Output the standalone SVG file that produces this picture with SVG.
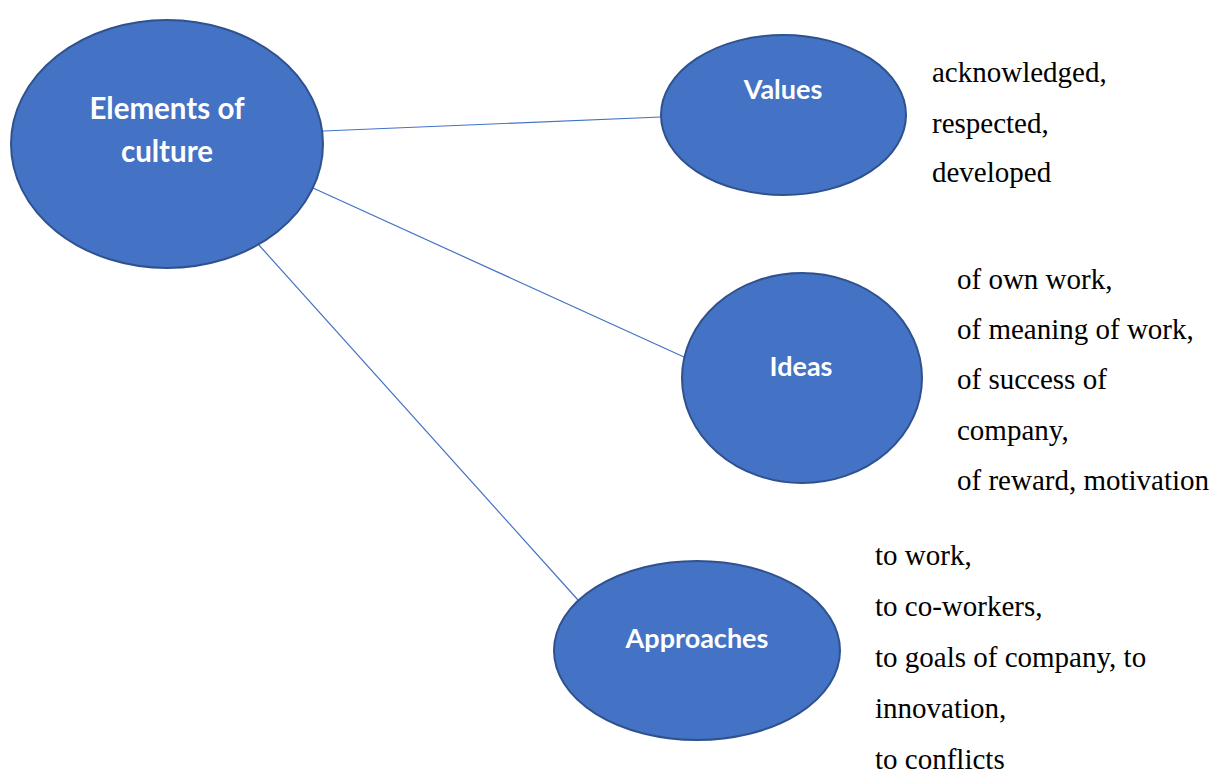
<svg xmlns="http://www.w3.org/2000/svg" width="1218" height="774" viewBox="0 0 1218 774">
<style>
.node{fill:#4472C4;stroke:#2F528F;stroke-width:2}
.lbl{fill:#FFFFFF;font-family:Lato,"Open Sans",sans-serif;font-weight:bold;text-anchor:middle}
.desc{fill:#000000;font-family:"Liberation Serif","Times New Roman",serif;font-size:29px}
.edge{stroke:#4472C4;stroke-width:1.2;fill:none}
</style>
<rect width="1218" height="774" fill="#FFFFFF"/>
<g id="connectors">
<line class="edge" x1="323" y1="131" x2="661" y2="117"/>
<line class="edge" x1="313" y1="188" x2="684" y2="357"/>
<line class="edge" x1="258" y1="244" x2="578" y2="600"/>
</g>
<g id="node-elements">
<ellipse class="node" cx="167" cy="144" rx="156" ry="124"/>
<text class="lbl" x="167" y="119" font-size="29.5">Elements of</text>
<text class="lbl" x="167" y="162" font-size="29.5">culture</text>
</g>
<g id="node-values">
<ellipse class="node" cx="783.5" cy="115" rx="122.5" ry="80"/>
<text class="lbl" x="783" y="99" font-size="27">Values</text>
</g>
<g id="node-ideas">
<ellipse class="node" cx="802" cy="378" rx="120" ry="105"/>
<text class="lbl" x="801" y="376" font-size="27">Ideas</text>
</g>
<g id="node-approaches">
<ellipse class="node" cx="697" cy="650.5" rx="143" ry="89.5"/>
<text class="lbl" x="697" y="648" font-size="27">Approaches</text>
</g>
<g id="values-text">
<text class="desc" x="932" y="82">acknowledged,</text>
<text class="desc" x="932" y="133">respected,</text>
<text class="desc" x="932" y="182">developed</text>
</g>
<g id="ideas-text">
<text class="desc" x="957" y="289">of own work,</text>
<text class="desc" x="957" y="339">of meaning of work,</text>
<text class="desc" x="957" y="389">of success of</text>
<text class="desc" x="957" y="440">company,</text>
<text class="desc" x="957" y="490">of reward, motivation</text>
</g>
<g id="approaches-text">
<text class="desc" x="875" y="565">to work,</text>
<text class="desc" x="875" y="616">to co-workers,</text>
<text class="desc" x="875" y="667">to goals of company, to</text>
<text class="desc" x="875" y="718">innovation,</text>
<text class="desc" x="875" y="769">to conflicts</text>
</g>
</svg>
